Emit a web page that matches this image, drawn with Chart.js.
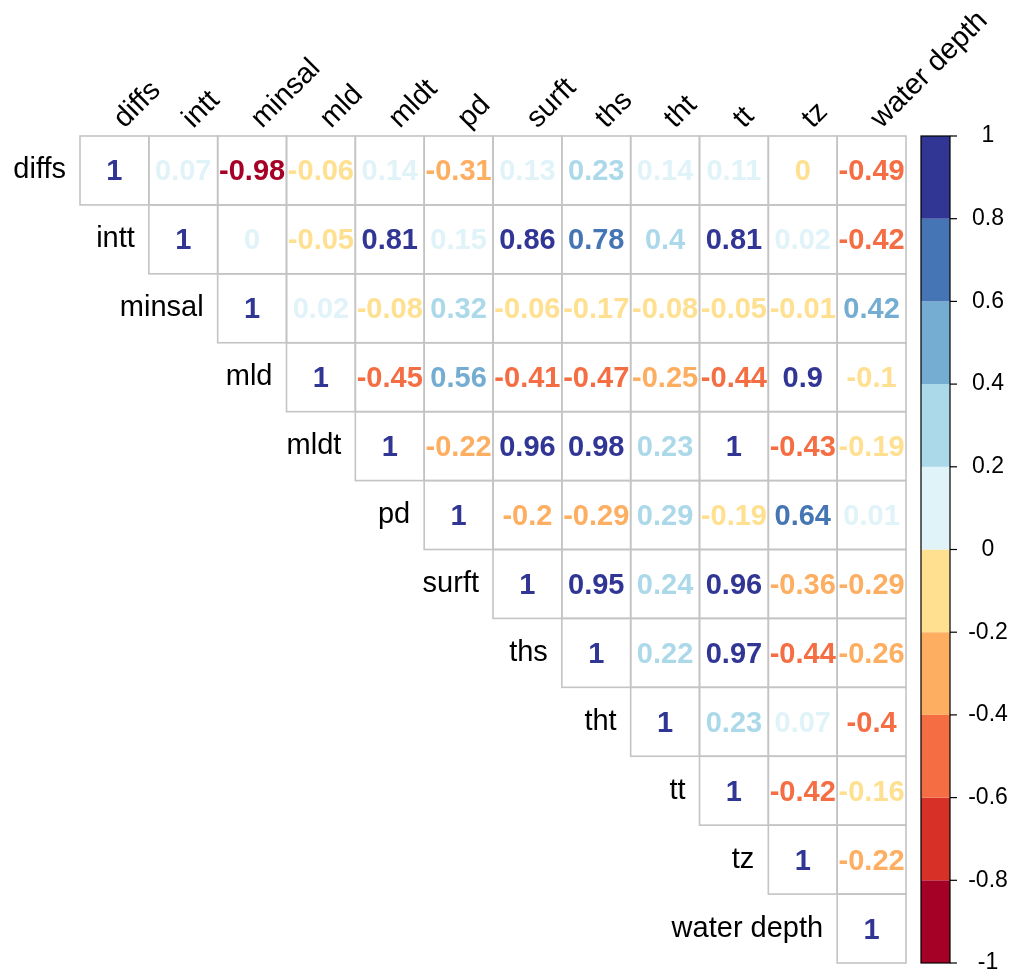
<!DOCTYPE html>
<html>
<head>
<meta charset="utf-8">
<script src="https://cdn.jsdelivr.net/npm/chart.js@4/dist/chart.umd.min.js"></script>
<style>
  body { margin: 0; background: #fff; }
  canvas { display: block; }
</style>
</head>
<body>
<canvas id="corrChart" width="1011" height="970"></canvas>
<script>
// variable names (rows and columns)
var vars = ["diffs", "intt", "minsal", "mld", "mldt", "pd", "surft", "ths", "tht", "tt", "tz", "water depth"];

// upper triangle, each row starts at the diagonal
var rowDiffs  = [1, 0.07, -0.98, -0.06, 0.14, -0.31, 0.13, 0.23, 0.14, 0.11, -0.004, -0.49];
var rowIntt   = [1, 0.004, -0.05, 0.81, 0.15, 0.86, 0.78, 0.398, 0.81, 0.02, -0.42];
var rowMinsal = [1, 0.02, -0.08, 0.32, -0.06, -0.17, -0.08, -0.05, -0.01, 0.42];
var rowMld    = [1, -0.45, 0.56, -0.41, -0.47, -0.25, -0.44, 0.9, -0.1];
var rowMldt   = [1, -0.22, 0.96, 0.98, 0.23, 0.996, -0.43, -0.19];
var rowPd     = [1, -0.203, -0.29, 0.29, -0.19, 0.64, 0.01];
var rowSurft  = [1, 0.95, 0.24, 0.96, -0.36, -0.29];
var rowThs    = [1, 0.22, 0.97, -0.44, -0.26];
var rowTht    = [1, 0.23, 0.07, -0.404];
var rowTt     = [1, -0.42, -0.16];
var rowTz     = [1, -0.22];
var rowDepth  = [1];
var corrRows = [rowDiffs, rowIntt, rowMinsal, rowMld, rowMldt, rowPd, rowSurft, rowThs, rowTht, rowTt, rowTz, rowDepth];

// colour bar
var binColors = ["#A50026", "#D73027", "#F46D43", "#FDAE61", "#FEE090",
                 "#E0F3F8", "#ABD9E9", "#74ADD1", "#4575B4", "#313695"];
var barTicks = [1, 0.8, 0.6, 0.4, 0.2, 0, -0.2, -0.4, -0.6, -0.8, -1];

var n = vars.length;

function colorFor(v){
    var b = Math.floor((v + 1) / 0.2);
    if(b > 9) b = 9;
    if(b < 0) b = 0;
    return binColors[b];
}

function fmt(v){
    var r = Math.round(v * 100) / 100;
    if(r === 0) r = 0;
    return String(r);
}

var points = [];
for(var i = 0; i < n; i++){
    for(var k = 0; k < corrRows[i].length; k++){
        var j = i + k;
        points.push({x: j + 0.5, y: i + 0.5, r: i, c: j, v: corrRows[i][k]});
    }
}

var FONT = "'Liberation Sans', Arial, sans-serif";

var corrPlugin = {
    id: 'corrPlot',
    afterDatasetsDraw: function(chart){
        var ctx = chart.ctx;
        var xs = chart.scales.x, ys = chart.scales.y, cb = chart.scales.cb;
        var meta = chart.getDatasetMeta(0);

        ctx.save();
        // cell borders
        ctx.strokeStyle = "#C4C4C4";
        ctx.lineWidth = 1.6;
        points.forEach(function(p){
            var x0 = xs.getPixelForValue(p.c), x1 = xs.getPixelForValue(p.c + 1);
            var y0 = ys.getPixelForValue(p.r), y1 = ys.getPixelForValue(p.r + 1);
            ctx.strokeRect(x0, y0, x1 - x0, y1 - y0);
        });

        // coefficients
        ctx.font = "bold 29px " + FONT;
        ctx.textAlign = "center";
        ctx.textBaseline = "middle";
        meta.data.forEach(function(el, idx){
            var p = points[idx];
            ctx.fillStyle = colorFor(p.v);
            ctx.fillText(fmt(p.v), el.x, el.y + 2);
        });

        // row labels
        ctx.font = "29px " + FONT;
        ctx.fillStyle = "#000";
        ctx.textAlign = "right";
        for(var i = 0; i < n; i++){
            ctx.fillText(vars[i], xs.getPixelForValue(i) - 14, ys.getPixelForValue(i + 0.5));
        }

        // column labels, rotated
        ctx.textAlign = "left";
        ctx.textBaseline = "alphabetic";
        for(var j = 0; j < n; j++){
            ctx.save();
            ctx.translate(xs.getPixelForValue(j + 0.5) + 10, ys.getPixelForValue(0) - 7);
            ctx.rotate(-Math.PI / 4);
            ctx.fillText(vars[j], 0, 0);
            ctx.restore();
        }

        // colour bar
        var bx0 = 921, bx1 = 950;
        for(var b = 0; b < binColors.length; b++){
            var lo = -1 + b * 0.2, hi = lo + 0.2;
            var yTop = cb.getPixelForValue(hi), yBot = cb.getPixelForValue(lo);
            ctx.fillStyle = binColors[b];
            ctx.fillRect(bx0, yTop, bx1 - bx0, yBot - yTop);
        }
        ctx.strokeStyle = "#000";
        ctx.lineWidth = 1.2;
        ctx.strokeRect(bx0, cb.getPixelForValue(1), bx1 - bx0, cb.getPixelForValue(-1) - cb.getPixelForValue(1));
        ctx.font = "23px " + FONT;
        ctx.fillStyle = "#000";
        ctx.textAlign = "center";
        ctx.textBaseline = "middle";
        barTicks.forEach(function(t){
            var y = cb.getPixelForValue(t);
            ctx.beginPath();
            ctx.moveTo(bx1, y);
            ctx.lineTo(bx1 + 7, y);
            ctx.stroke();
            ctx.fillText(String(t), 988, y);
        });
        ctx.restore();
    }
};

new Chart(document.getElementById('corrChart').getContext('2d'), {
    type: 'scatter',
    data: {
        datasets: [
            {
                label: 'corr',
                data: points,
                pointRadius: 0,
                pointHoverRadius: 0
            }
        ]
    },
    options: {
        responsive: false,
        animation: false,
        devicePixelRatio: 1,
        layout: { padding: { left: 80, top: 136, right: 105, bottom: 7 } },
        plugins: { legend: { display: false }, tooltip: { enabled: false } },
        scales: {
            x: { type: 'linear', min: 0, max: 12, display: false },
            y: { type: 'linear', min: 0, max: 12, reverse: true, display: false },
            cb: { type: 'linear', position: 'right', min: -1, max: 1, display: false }
        }
    },
    plugins: [corrPlugin]
});
</script>
</body>
</html>
